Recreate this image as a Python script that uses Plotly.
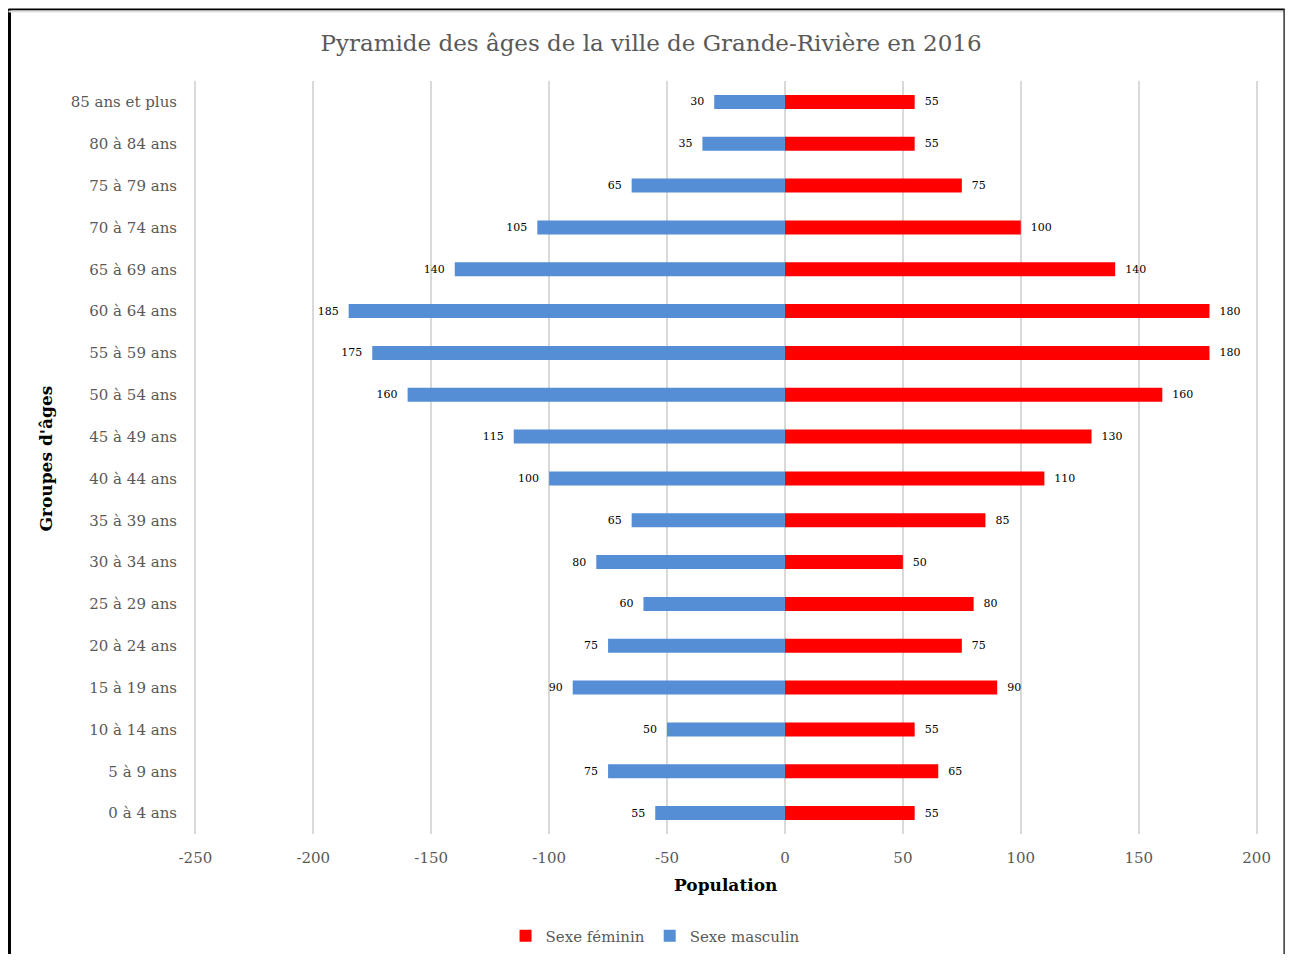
import plotly.graph_objects as go

groups = ["0 à 4 ans", "5 à 9 ans", "10 à 14 ans", "15 à 19 ans", "20 à 24 ans",
          "25 à 29 ans", "30 à 34 ans", "35 à 39 ans", "40 à 44 ans", "45 à 49 ans",
          "50 à 54 ans", "55 à 59 ans", "60 à 64 ans", "65 à 69 ans", "70 à 74 ans",
          "75 à 79 ans", "80 à 84 ans", "85 ans et plus"]
masculin = [55, 75, 50, 90, 75, 60, 80, 65, 100, 115, 160, 175, 185, 140, 105, 65, 35, 30]
feminin = [55, 65, 55, 90, 75, 80, 50, 85, 110, 130, 160, 180, 180, 140, 100, 75, 55, 55]
x_ticks = [-250, -200, -150, -100, -50, 0, 50, 100, 150, 200]

FONT = "DejaVu Serif"
GRAY = "#595959"
NB = "\u00a0"

# page has an 8px body margin: reference pixel coords are shifted by OFF
OFF = 8
W, H = 1294 - 2 * OFF, 962 - 2 * OFF
XMIN, XMAX = -251, 201
SCALE = (1257 - 195) / 450.0
L = (195 - OFF) - (-250 - XMIN) * SCALE
pw = (XMAX - XMIN) * SCALE
R = W - L - pw
T = 81 - OFF
B = H - (834 - OFF)
ph = H - T - B


def px(x):
    return (x - OFF - L) / pw


def py(y):
    return (H - B - (y - OFF)) / ph


fig = go.Figure()
fig.add_trace(go.Bar(
    y=groups, x=feminin, orientation="h", name="Sexe féminin",
    marker=dict(color="#FF0000", line=dict(width=0)),
    text=[NB * 2 + str(v) for v in feminin], textposition="outside",
    textfont=dict(family=FONT, size=11, color="#000000"), cliponaxis=False,
))
fig.add_trace(go.Bar(
    y=groups, x=[-v for v in masculin], orientation="h", name="Sexe masculin",
    marker=dict(color="#558ED5", line=dict(width=0)),
    text=[str(v) + NB * 2 for v in masculin], textposition="outside",
    textfont=dict(family=FONT, size=11, color="#000000"), cliponaxis=False,
))

fig.update_layout(
    width=W, height=H,
    margin=dict(l=L, r=R, t=T, b=B, autoexpand=False),
    paper_bgcolor="white", plot_bgcolor="white",
    barmode="overlay", bargap=0.665,
    font=dict(family=FONT, color=GRAY, size=15),
    title=dict(text="Pyramide des âges de la ville de Grande-Rivière en 2016",
               x=px(651), xref="paper", xanchor="center",
               y=1 - (43 - OFF) / H, yanchor="middle",
               font=dict(family=FONT, size=23, color=GRAY)),
    showlegend=True,
    legend=dict(orientation="h", x=px(655), xanchor="center",
                y=py(936), yanchor="middle",
                font=dict(family=FONT, size=15, color=GRAY),
                traceorder="normal", itemwidth=30),
    xaxis=dict(range=[XMIN, XMAX], tickvals=x_ticks, ticktext=[str(v) for v in x_ticks],
               showgrid=True, gridcolor="#D9D9D9", gridwidth=2,
               zeroline=False, showline=False, ticks="outside", ticklen=10,
               tickcolor="white", tickfont=dict(family=FONT, size=15, color=GRAY),
               fixedrange=True),
    yaxis=dict(categoryorder="array", categoryarray=groups, showgrid=False,
               zeroline=False, showline=False, ticks="outside", ticklen=12,
               tickcolor="white", tickfont=dict(family=FONT, size=15, color=GRAY),
               range=[-0.5, len(groups) - 0.5]),
    annotations=[
        dict(text="<b>Population</b>", x=px(725), y=py(885), xref="paper", yref="paper",
             showarrow=False, font=dict(family=FONT, size=17, color="#000000"),
             xanchor="center", yanchor="middle"),
        dict(text="<b>Groupes d'âges</b>", x=px(46), y=py(458), xref="paper", yref="paper",
             showarrow=False, textangle=-90, font=dict(family=FONT, size=17, color="#000000"),
             xanchor="center", yanchor="middle"),
    ],
    shapes=[
        dict(type="line", xref="paper", yref="paper", x0=px(9), x1=px(9), y0=py(9), y1=py(975),
             line=dict(color="#000000", width=3)),
        dict(type="line", xref="paper", yref="paper", x0=px(8), x1=px(1285), y0=py(9.5), y1=py(9.5),
             line=dict(color="#000000", width=2)),
        dict(type="line", xref="paper", yref="paper", x0=px(8), x1=px(1285), y0=py(11.5), y1=py(11.5),
             line=dict(color="#DDDDDD", width=2)),
        dict(type="line", xref="paper", yref="paper", x0=px(1284.5), x1=px(1284.5), y0=py(9), y1=py(975),
             line=dict(color="#333333", width=1.5)),
    ],
)

fig.write_html("out.html")
